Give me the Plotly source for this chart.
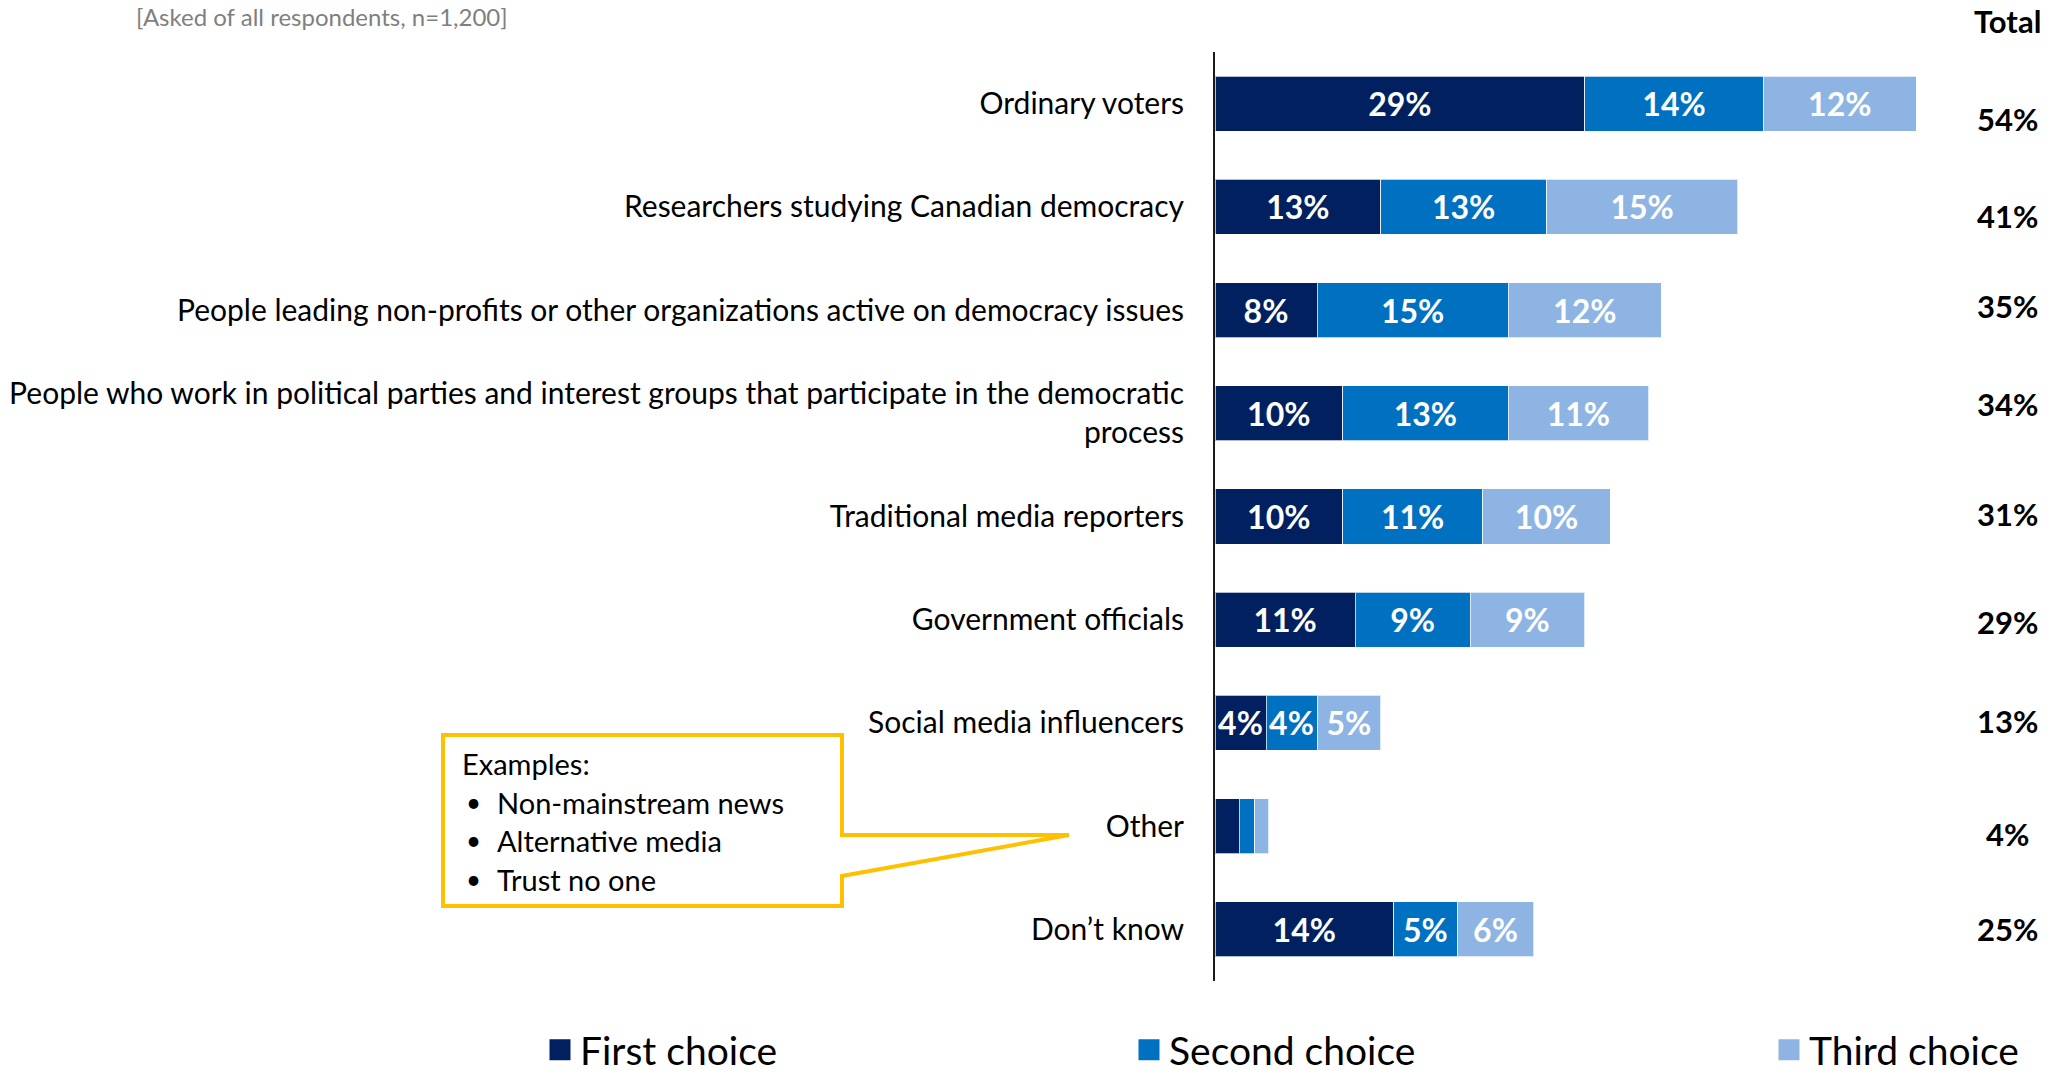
import plotly.graph_objects as go

# Survey results: who respondents trust on democracy questions (ranked choices)
categories = [
    "Ordinary voters",
    "Researchers studying Canadian democracy",
    "People leading non-profits or other organizations active on democracy issues",
    "People who work in political parties and interest groups that participate in the democratic<br>process",
    "Traditional media reporters",
    "Government officials",
    "Social media influencers",
    "Other",
    "Don’t know",
]
first_choice = [29, 13, 8, 10, 10, 11, 4, 1.9, 14]
second_choice = [14, 13, 15, 13, 11, 9, 4, 1.2, 5]
third_choice = [12, 15, 12, 11, 10, 9, 5, 1.1, 6]
totals = [54, 41, 35, 34, 31, 29, 13, 4, 25]

series_names = ["First choice", "Second choice", "Third choice"]
series_colors = ["#002060", "#0070C0", "#8EB4E3"]
unlabeled_rows = {"Other"}

note_text = "[Asked of all respondents, n=1,200]"
callout_title = "Examples:"
callout_items = ["Non-mainstream news", "Alternative media", "Trust no one"]

FONT = "Lato, Carlito, Calibri, 'Liberation Sans', sans-serif"
W, H = 2051, 1077
ML, MT, MB = 1215, 52, 96
PLOT_W = 816
PLOT_H = H - MT - MB
MR = W - ML - PLOT_W

# vertical nudges (px) of the Total column text boxes relative to each row centre
total_nudge = [-15, -9, 4, 9, 2.5, -2, 2, -8, 0]


def px(x):
    return (x - ML) / PLOT_W


def py(y):
    return (H - MB - y) / PLOT_H


fig = go.Figure()
for name, vals, col in zip(series_names, [first_choice, second_choice, third_choice], series_colors):
    labels = ["" if c in unlabeled_rows else f"{v:.0f}%" for c, v in zip(categories, vals)]
    fig.add_trace(go.Bar(
        name=name, y=categories, x=vals, orientation="h",
        marker=dict(color=col, line=dict(color="rgba(255,255,255,0.7)", width=1)),
        text=labels, textposition="inside", insidetextanchor="middle", textangle=0,
        insidetextfont=dict(family=FONT, size=32, color="white", weight="bold"),
        hoverinfo="skip", showlegend=False,
    ))

# Legend keys: one legend per series so each sits at its own spot under the chart
legend_ids = ["legend", "legend2", "legend3"]
legend_left = [540, 1129, 1769]
for name, col, lid in zip(series_names, series_colors, legend_ids):
    fig.add_trace(go.Scatter(
        name=name, x=[None], y=[None], mode="markers",
        marker=dict(symbol="square", size=16, color=col, line=dict(color=col, width=5)),
        legend=lid, showlegend=True, hoverinfo="skip",
    ))

annotations = []
# Total column
annotations.append(dict(xref="paper", yref="paper", x=px(2007), y=py(21), text="<b>Total</b>",
                        showarrow=False, xanchor="center", yanchor="middle",
                        font=dict(family=FONT, size=31, color="black")))
for c, t, dy in zip(categories, totals, total_nudge):
    annotations.append(dict(xref="paper", yref="y", x=px(2007), y=c, yshift=dy, text=f"<b>{t}%</b>",
                            showarrow=False, xanchor="center", yanchor="middle",
                            font=dict(family=FONT, size=31, color="black")))

# Sample note
annotations.append(dict(xref="paper", yref="paper", x=px(134), y=py(16), text=note_text,
                        showarrow=False, xanchor="left", yanchor="middle",
                        font=dict(family=FONT, size=24, color="#7F7F7F")))

# Callout text
annotations.append(dict(xref="paper", yref="paper", x=px(460), y=py(763), text=callout_title,
                        showarrow=False, xanchor="left", yanchor="middle",
                        font=dict(family=FONT, size=29, color="black")))
for i, item in enumerate(callout_items):
    yy = 802 + i * 38.5
    annotations.append(dict(xref="paper", yref="paper", x=px(464), y=py(yy), text="•",
                            showarrow=False, xanchor="left", yanchor="middle",
                            font=dict(family=FONT, size=26, color="black")))
    annotations.append(dict(xref="paper", yref="paper", x=px(495), y=py(yy), text=item,
                            showarrow=False, xanchor="left", yanchor="middle",
                            font=dict(family=FONT, size=29, color="black")))

callout_pts = [(443, 735), (842, 735), (842, 835), (1069, 835), (842, 876), (842, 906), (443, 906)]
callout_path = "M " + " L ".join(f"{px(x):.5f},{py(y):.5f}" for x, y in callout_pts) + " Z"

legend_style = dict(orientation="h", xanchor="left", y=py(1050), yanchor="middle",
                    font=dict(family=FONT, size=39, color="black"),
                    bgcolor="rgba(0,0,0,0)", borderwidth=0)

fig.update_layout(
    width=W, height=H,
    margin=dict(l=ML, r=MR, t=MT, b=MB, pad=0, autoexpand=False),
    paper_bgcolor="white", plot_bgcolor="white",
    barmode="stack", bargap=0.467,
    font=dict(family=FONT, size=29, color="black"),
    uniformtext=dict(minsize=32, mode="show"),
    xaxis=dict(visible=False, range=[0, PLOT_W / 12.75], fixedrange=True),
    yaxis=dict(autorange="reversed", showline=True, linecolor="#1a1a1a", linewidth=2,
               showgrid=False, zeroline=False, ticks="", ticklabelstandoff=23,
               tickfont=dict(family=FONT, size=30, color="black")),
    legend=dict(x=px(legend_left[0]), **legend_style),
    legend2=dict(x=px(legend_left[1]), **legend_style),
    legend3=dict(x=px(legend_left[2]), **legend_style),
    shapes=[dict(type="path", xref="paper", yref="paper", path=callout_path,
                 line=dict(color="#FFC000", width=4), fillcolor="white", layer="above")],
    annotations=annotations,
    showlegend=True,
)

fig.write_html("out.html")
